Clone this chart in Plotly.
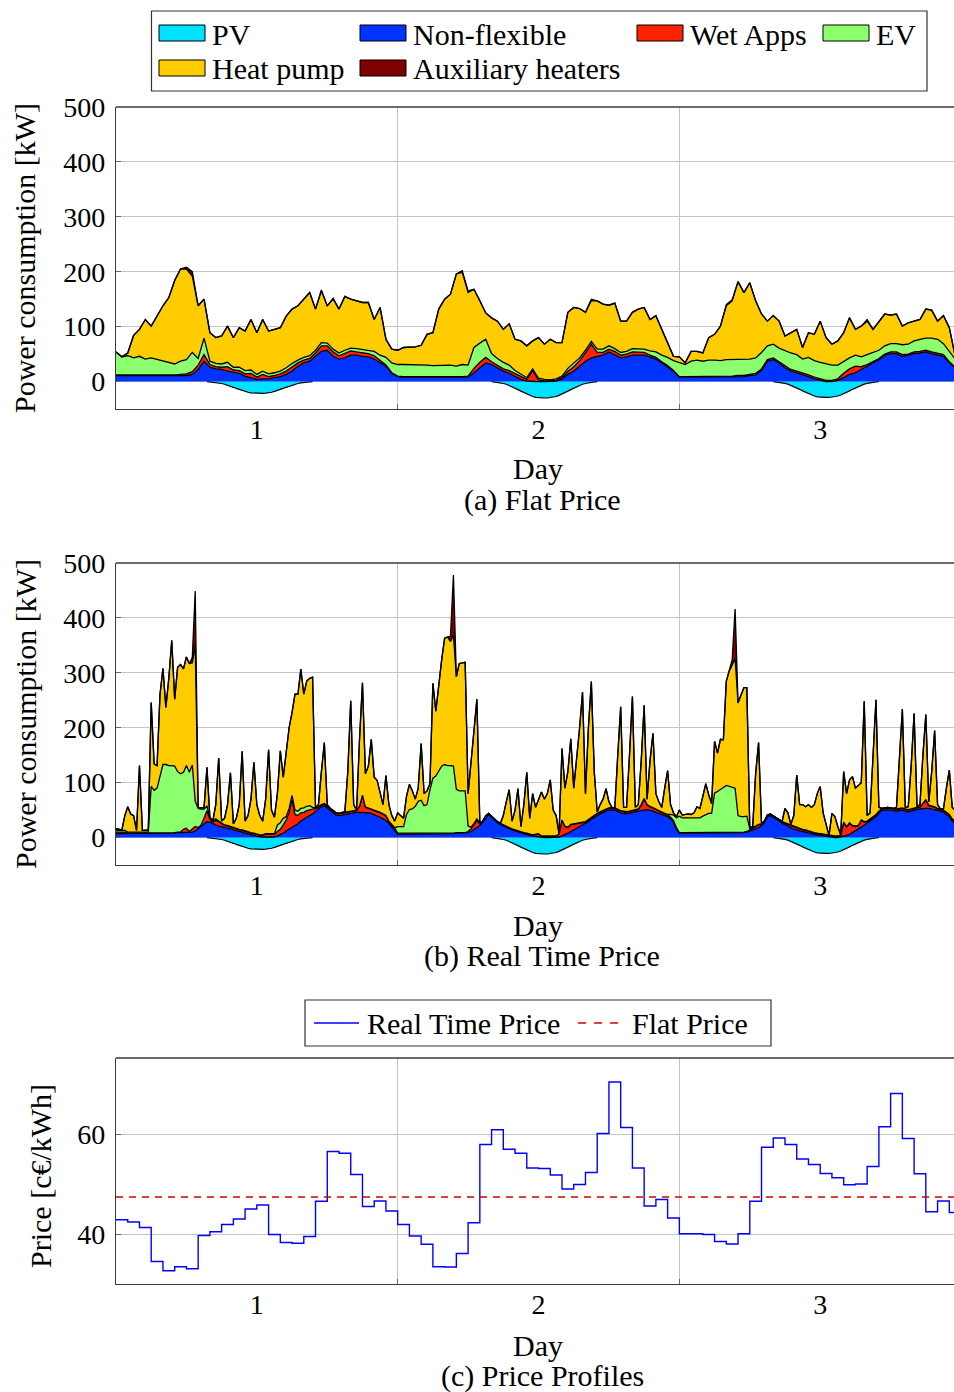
import plotly.graph_objects as go

W, H = 954, 1392


def xp(px):
    return px / W


def yp(py):
    return 1 - py / H


# ---------------- (a) Flat price: half-hourly layers [kW] ----------------
NF_A = ([11, 11, 10, 10, 10, 10, 10, 10, 10, 10, 10, 11, 11, 13, 22, 37, 26, 23, 22, 19,
         17, 15, 10, 7, 4, 5, 5, 7, 9, 13, 19, 28, 34, 37, 46, 55, 57, 46, 41, 43,
         48, 48, 46, 45, 41, 34, 28, 15]
        + [9, 8, 8, 7, 7, 7, 7, 7, 7, 7, 7, 8, 8, 16, 25, 34, 31, 25, 19, 15,
           10, 4, 1, 0, 0, 0, 0, 1, 5, 13, 19, 28, 37, 43, 45, 48, 54, 49, 43, 45,
           48, 48, 48, 45, 41, 34, 27, 19]
        + [8, 8, 8, 8, 8, 8, 8, 8, 8, 8, 9, 9, 11, 12, 20, 37, 40, 34, 25, 19,
           16, 13, 9, 5, 2, 0, 0, 2, 7, 13, 16, 22, 28, 34, 40, 48, 51, 51, 46, 48,
           51, 52, 54, 51, 49, 46, 34, 25])
WA_A = ([1, 1, 1, 1, 1, 1, 1, 1, 1, 1, 2, 2, 3, 5, 8, 12, 5, 4, 4, 8,
         4, 5, 4, 8, 4, 8, 4, 4, 5, 6, 8, 6, 5, 5, 6, 10, 8, 8, 6, 8,
         8, 6, 6, 6, 6, 4, 2, 1]
        + [1, 1, 1, 1, 1, 1, 1, 1, 1, 1, 1, 1, 2, 8, 10, 10, 5, 5, 4, 5,
           5, 5, 3, 20, 3, 1, 1, 1, 2, 6, 8, 10, 15, 25, 8, 5, 5, 6, 5, 5,
           6, 5, 5, 3, 3, 2, 2, 1]
        + [1, 1, 1, 1, 1, 1, 1, 2, 2, 2, 2, 2, 2, 3, 3, 3, 3, 2, 3, 3,
           3, 3, 3, 3, 3, 2, 2, 3, 8, 10, 12, 5, 3, 3, 2, 2, 3, 3, 3, 2,
           3, 3, 3, 3, 3, 3, 2, 1])
EV_A = ([42, 33, 36, 32, 35, 30, 32, 29, 26, 23, 20, 24, 26, 35, 12, 30, 6, 6, 6, 8,
         5, 6, 6, 6, 5, 6, 5, 5, 5, 6, 6, 5, 5, 5, 5, 6, 5, 5, 5, 6,
         5, 6, 6, 6, 8, 10, 14, 18]
        + [21, 22, 22, 22, 22, 22, 21, 21, 22, 22, 20, 22, 20, 38, 35, 33, 15, 12, 12, 10,
           5, 4, 3, 3, 3, 3, 2, 3, 3, 5, 6, 5, 5, 5, 6, 6, 6, 5, 5, 5,
           6, 6, 6, 8, 10, 12, 15, 18]
        + [25, 22, 28, 30, 28, 30, 30, 28, 30, 30, 30, 30, 28, 28, 30, 25, 25, 25, 28, 30,
           30, 25, 32, 30, 30, 30, 28, 25, 22, 20, 20, 18, 18, 16, 15, 15, 15, 15, 18, 18,
           20, 22, 22, 25, 25, 20, 18, 15])
HP_A = ([0, 0, 5, 41, 49, 72, 58, 79, 101, 119, 152, 168, 165, 139, 96, 71, 52, 47, 51, 66,
         54, 72, 72, 92, 76, 94, 78, 79, 79, 94, 99, 99, 106, 115, 75, 94, 68, 91, 80, 98,
         89, 87, 86, 87, 58, 87, 33, 25]
        + [26, 31, 32, 33, 36, 56, 60, 103, 120, 129, 168, 168, 132, 106, 77, 48, 65, 68, 60, 75,
           57, 61, 58, 51, 74, 64, 74, 66, 61, 102, 102, 90, 69, 74, 88, 82, 74, 83, 57, 55,
           66, 73, 76, 57, 66, 47, 27, 8]
        + [11, 3, 18, 16, 15, 41, 47, 63, 98, 107, 141, 121, 139, 104, 70, 45, 52, 49, 27, 37,
           46, 21, 45, 48, 75, 48, 38, 44, 52, 73, 47, 56, 61, 42, 53, 58, 52, 54, 34, 39,
           36, 36, 53, 51, 33, 51, 44, 5])
AUX_A = ([0, 0, 0, 0, 0, 0, 0, 0, 0, 0, 0, 0, 3, 8, 0, 0, 0, 0, 0, 0,
          0, 0, 0, 0, 0, 0, 0, 0, 0, 0, 0, 0, 0, 0, 0, 2, 0, 2, 0, 0,
          0, 0, 0, 0, 0, 0, 0, 0]
         + [0, 0, 0, 0, 0, 0, 0, 0, 0, 0, 0, 3, 3, 0, 0, 0, 0, 0, 0, 0,
            0, 0, 0, 0, 0, 0, 0, 0, 0, 0, 0, 0, 0, 3, 0, 0, 0, 0, 0, 0,
            0, 0, 0, 0, 0, 0, 0, 0]
         + [0, 0, 0, 0, 0, 0, 0, 0, 2, 2, 0, 0, 0, 0, 0, 0, 0, 0, 0, 0,
            0, 0, 0, 0, 0, 0, 0, 0, 0, 0, 0, 0, 3, 0, 0, 0, 0, 0, 0, 0,
            0, 0, 0, 0, 0, 0, 0, 0])

# ---------------- (b) Real time price: quarter-hourly layers [kW] ----------------
NF_B = ([7, 7, 7, 7, 7, 7, 7, 7, 7, 7, 7, 7, 7, 7, 8, 8, 8, 8, 8, 8,
         8, 9, 9, 9, 9, 10, 10, 12, 16, 21, 25, 29, 28, 25, 23, 21, 20, 19, 18, 16,
         14, 13, 11, 10, 8, 7, 5, 4, 2, 1, 1, 1, 1, 1, 1, 3, 5, 8, 12, 15,
         19, 22, 25, 30, 34, 37, 40, 43, 48, 52, 56, 58, 54, 49, 45, 41, 40, 41, 43, 44,
         45, 45, 46, 46, 46, 45, 45, 44, 42, 39, 37, 34, 31, 26, 20, 14]
        + [6, 6, 6, 6, 6, 6, 6, 6, 6, 6, 6, 6, 6, 7, 7, 7, 7, 7, 7, 7,
           8, 8, 8, 8, 9, 11, 15, 19, 22, 28, 35, 42, 37, 32, 27, 24, 21, 18, 16, 14,
           12, 11, 9, 7, 6, 4, 3, 2, 1, 0, 0, 0, 0, 0, 0, 1, 3, 5, 8, 11,
           14, 17, 20, 22, 25, 29, 33, 37, 40, 43, 46, 48, 50, 51, 50, 47, 45, 44, 43, 44,
           46, 47, 48, 49, 50, 51, 50, 48, 46, 45, 43, 41, 38, 34, 28, 15]
        + [8, 8, 8, 8, 8, 8, 8, 8, 8, 8, 8, 8, 8, 8, 8, 8, 8, 8, 9, 9,
           9, 9, 9, 10, 12, 14, 15, 18, 22, 27, 38, 40, 37, 34, 30, 26, 23, 20, 18, 16,
           14, 13, 11, 10, 8, 7, 6, 5, 4, 3, 2, 1, 0, 0, 0, 1, 2, 4, 6, 9,
           12, 15, 19, 23, 26, 30, 34, 38, 44, 49, 50, 51, 50, 49, 48, 49, 50, 48, 47, 48,
           50, 51, 52, 53, 53, 53, 52, 50, 49, 48, 46, 42, 38, 30, 25, 20])
WA_B = ([3, 3, 3, 3, 1, 1, 1, 1, 1, 1, 1, 1, 1, 1, 1, 1, 1, 1, 1, 1,
         1, 1, 1, 6, 8, 1, 6, 8, 2, 2, 10, 20, 5, 3, 8, 8, 5, 3, 3, 3,
         3, 3, 3, 3, 3, 3, 3, 3, 3, 3, 3, 5, 5, 5, 5, 8, 10, 15, 20, 30,
         50, 20, 15, 15, 12, 12, 10, 8, 5, 3, 3, 3, 3, 3, 3, 3, 3, 3, 3, 3,
         3, 3, 3, 10, 30, 10, 8, 8, 8, 8, 8, 8, 8, 3, 3, 3]
        + [2, 2, 2, 1, 1, 1, 1, 1, 1, 1, 1, 1, 1, 1, 1, 1, 1, 1, 1, 1,
           1, 1, 1, 1, 2, 5, 8, 12, 3, 1, 1, 1, 1, 1, 1, 1, 1, 1, 1, 1,
           1, 1, 1, 1, 1, 1, 1, 3, 5, 2, 2, 2, 2, 2, 2, 5, 28, 15, 10, 12,
           10, 8, 6, 5, 3, 3, 3, 3, 3, 3, 3, 3, 3, 3, 3, 3, 3, 3, 3, 3,
           3, 3, 3, 10, 20, 8, 6, 6, 5, 3, 3, 3, 3, 3, 3, 3]
        + [1, 1, 1, 1, 1, 1, 1, 1, 1, 1, 1, 1, 1, 1, 1, 1, 1, 1, 1, 1,
           1, 1, 1, 1, 2, 3, 5, 5, 2, 2, 2, 2, 2, 2, 2, 2, 3, 3, 3, 3,
           3, 3, 3, 3, 3, 3, 2, 2, 2, 2, 2, 2, 2, 2, 2, 3, 25, 15, 20, 12,
           8, 6, 12, 5, 3, 3, 3, 3, 3, 3, 3, 3, 3, 3, 3, 3, 3, 3, 3, 3,
           3, 3, 3, 8, 15, 5, 5, 5, 3, 3, 3, 3, 3, 3, 3, 3])
EV_B = ([3, 3, 3, 3, 2, 2, 2, 2, 2, 2, 2, 2, 85, 78, 81, 103, 124, 124, 122, 122,
         121, 110, 106, 104, 114, 108, 116, 46, 35, 29, 17, 8, 3, 3, 3, 1, 1, 1, 1, 1,
         1, 1, 1, 1, 1, 1, 1, 1, 1, 1, 1, 1, 1, 1, 1, 12, 12, 12, 6, 8,
         8, 8, 8, 8, 8, 8, 8, 4, 1, 1, 1, 1, 1, 1, 1, 1, 1, 1, 1, 1,
         1, 1, 1, 1, 1, 1, 1, 1, 1, 1, 1, 1, 1, 1, 1, 1]
        + [12, 12, 12, 35, 44, 45, 50, 59, 61, 51, 53, 80, 101, 104, 113, 122, 125, 123, 123, 122,
           79, 76, 76, 76, 10, 3, 3, 3, 1, 1, 1, 1, 1, 1, 1, 1, 1, 1, 1, 1,
           1, 1, 1, 1, 1, 1, 1, 1, 1, 1, 1, 1, 1, 1, 1, 1, 1, 1, 1, 1,
           1, 1, 1, 1, 1, 1, 1, 1, 1, 1, 1, 1, 1, 1, 1, 1, 1, 1, 1, 1,
           1, 1, 1, 1, 1, 1, 1, 1, 1, 1, 1, 1, 1, 5, 10, 18]
        + [30, 27, 27, 27, 27, 27, 27, 27, 30, 33, 35, 35, 72, 75, 78, 82, 86, 84, 82, 80,
           30, 28, 28, 28, 2, 1, 1, 1, 1, 1, 1, 1, 1, 1, 1, 1, 1, 1, 1, 1,
           1, 1, 1, 1, 1, 1, 1, 1, 1, 1, 1, 1, 1, 1, 1, 1, 1, 1, 1, 1,
           1, 1, 1, 1, 1, 1, 1, 1, 1, 1, 1, 1, 1, 1, 1, 1, 1, 1, 1, 1,
           1, 1, 1, 1, 1, 1, 1, 1, 1, 1, 1, 1, 1, 1, 2, 3])
HP_B = ([3, 2, 1, 27, 46, 33, 30, 3, 121, 3, 3, 4, 153, 48, 41, 149, 175, 104, 159, 228,
         122, 190, 199, 188, 198, 198, 186, 283, 2, 2, 2, 71, 0, 0, 26, 115, 4, 12, 38, 98,
         7, 18, 45, 143, 18, 29, 61, 129, 54, 35, 25, 63, 153, 43, 30, 57, 131, 75, 122, 147,
         151, 211, 213, 254, 207, 228, 232, 237, 1, 4, 60, 111, 2, 0, 0, 0, 0, 0, 0, 72,
         200, 11, 0, 123, 205, 60, 76, 126, 59, 56, 34, 17, 73, 30, 16, 12]
        + [25, 20, 15, 33, 46, 33, 13, 24, 103, 22, 25, 11, 173, 118, 159, 194, 230, 234, 226, 238,
           205, 232, 233, 234, 59, 116, 174, 218, 0, 0, 3, 0, 0, 0, 0, 0, 17, 45, 69, 14,
           36, 76, 9, 51, 111, 29, 75, 49, 63, 80, 67, 77, 102, 47, 37, 0, 130, 69, 101, 156,
           65, 115, 173, 237, 51, 167, 247, 79, 3, 13, 20, 37, 11, 0, 0, 99, 189, 7, 8, 102,
           207, 4, 8, 80, 170, 10, 83, 135, 28, 16, 8, 45, 80, 18, 4, 2]
        + [11, 5, 6, 7, 6, 9, 20, 17, 36, 56, 34, 18, 94, 70, 92, 87, 190, 210, 222, 236,
           205, 222, 235, 234, 2, 2, 96, 149, 0, 0, 0, 0, 0, 0, 0, 0, 26, 21, 2, 20,
           96, 43, 45, 42, 48, 44, 51, 72, 86, 39, 20, 0, 41, 35, 17, 0, 92, 60, 78, 89,
           69, 73, 68, 219, 10, 11, 112, 209, 7, 0, 0, 0, 0, 0, 3, 97, 180, 3, 5, 78,
           172, 1, 4, 88, 155, 6, 62, 139, 7, 0, 2, 44, 81, 21, 20, 19])
AUX_B = ([0] * 26 + [10, 100] + [0] * 68
         + [0] * 18 + [10, 110] + [0] * 76
         + [0] * 18 + [10, 90] + [0] * 76)

# PV generation (shown negative), quarter-hourly, same in both scenarios [kW]
PV = ([0] * 32
      + [-0.5, -1, -1.5, -2.5, -3.5, -5, -6.5, -8.5, -10.5, -12.5, -14.5, -16.5, -18, -19.5,
         -20.5, -21, -21.5, -21.5, -21.5, -21, -20.5, -19.5, -18, -16.5, -14.5, -12.5, -10.5,
         -8.5, -6.5, -5, -3.5, -2.5, -1.5, -1, -0.5]
      + [0] * 29
      + [0] * 33
      + [-0.7, -1.4, -2.1, -3.5, -4.9, -7, -9.1, -11.9, -14.7, -17.5, -20.3, -23.1, -25.2,
         -27.3, -28.7, -29.4, -30, -30, -30, -29.4, -28.7, -27.3, -25.2, -23.1, -20.3, -17.5,
         -14.7, -11.9, -9.1, -7, -4.9, -3.5, -2.1, -1.4, -0.7]
      + [0] * 28
      + [0] * 33
      + [-0.7, -1.4, -2, -3.4, -4.8, -6.8, -8.8, -11.5, -14.2, -17, -19.7, -22.4, -24.4,
         -26.4, -27.8, -28.5, -29, -29, -29, -28.5, -27.8, -26.4, -24.4, -22.4, -19.7, -17,
         -14.2, -11.5, -8.8, -6.8, -4.8, -3.4, -2, -1.4, -0.7]
      + [0] * 28)

# ---------------- (c) Price profiles, hourly [c€/kWh] ----------------
PRICE_RT = [42.85, 42.4, 41.3, 34.5, 32.65, 33.45, 33.05, 39.7, 40.45, 41.9, 43.0, 45.0,
            45.8, 39.9, 38.3, 38.15, 39.5, 46.55, 56.5, 56.15, 51.9, 45.5, 46.6, 44.6,
            41.9, 39.6, 37.95, 33.45, 33.4, 36.1, 42.25, 57.9, 60.85, 56.95, 56.15, 53.2,
            53.1, 51.8, 49.0, 49.9, 52.3, 60.1, 70.4, 61.3, 53.2, 45.6, 46.9, 43.2,
            40.05, 40.05, 39.9, 38.5, 38.0, 40.05, 46.55, 57.35, 59.2, 57.9, 55.0, 53.9,
            52.1, 51.25, 49.85, 50.0, 53.5, 61.45, 68.1, 59.1, 52.05, 44.45, 46.6, 44.3]
PRICE_FLAT = 47.4

DAY_TICKS = [1, 2, 3]
DAY_LABELS = ["1", "2", "3"]
KW_TICKS = [0, 100, 200, 300, 400, 500]
PRICE_TICKS = [40, 60]

# time grids (days; day d is centred on d)
x_a = [0.5 + k / 48 for k in range(len(NF_A))]
x_b = [0.5 + k / 96 for k in range(len(NF_B))]
x_c = [0.5 + k / 24 for k in range(len(PRICE_RT) + 1)]

COL = {
    "PV": "#00e1ff",
    "Non-flexible": "#0033ff",
    "Wet Apps": "#ff2200",
    "EV": "#8cff6e",
    "Heat pump": "#ffcc00",
    "Auxiliary heaters": "#800000",
}
FLAT_COL = "#d40000"

FONT = "Liberation Serif"
FS = 30      # labels
FT = 28      # tick labels

fig = go.Figure()


def pv_segments(vals):
    out = []
    n = len(vals)
    for i, v in enumerate(vals):
        near = v != 0 or (i > 0 and vals[i - 1] != 0) or (i < n - 1 and vals[i + 1] != 0)
        out.append(v if near else None)
    return out


def add_panel(xs, layers, xa, ya, grp):
    fig.add_trace(go.Scatter(x=x_b, y=pv_segments(PV), mode="lines", fill="tozeroy",
                             fillcolor=COL["PV"], line=dict(color="black", width=1.2),
                             xaxis=xa, yaxis=ya, showlegend=False, hoverinfo="skip"))
    for name, vals in layers:
        fig.add_trace(go.Scatter(x=xs, y=vals, mode="lines", stackgroup=grp,
                                 fillcolor=COL[name], line=dict(color="black", width=1.3),
                                 xaxis=xa, yaxis=ya, showlegend=False, name=name))


add_panel(x_a, [("Non-flexible", NF_A), ("Wet Apps", WA_A), ("EV", EV_A),
                ("Heat pump", HP_A), ("Auxiliary heaters", AUX_A)], "x", "y", "a")
add_panel(x_b, [("Non-flexible", NF_B), ("Wet Apps", WA_B), ("EV", EV_B),
                ("Heat pump", HP_B), ("Auxiliary heaters", AUX_B)], "x2", "y2", "b")

fig.add_trace(go.Scatter(x=x_c, y=PRICE_RT + [PRICE_RT[-1]], mode="lines", line_shape="hv",
                         line=dict(color="#0000ff", width=1.4), xaxis="x3", yaxis="y3",
                         showlegend=False, name="Real Time Price"))
fig.add_trace(go.Scatter(x=[0.5, 3.5], y=[PRICE_FLAT, PRICE_FLAT], mode="lines",
                         line=dict(color=FLAT_COL, width=1.3, dash="7px,6px"),
                         xaxis="x3", yaxis="y3", showlegend=False, name="Flat Price"))

GRID = "#c4c4c4"
AX = "#3a3a3a"
XDOM = [xp(116), 1.0]


def xaxis_cfg(anchor):
    return dict(domain=XDOM, anchor=anchor, range=[0.5, 3.475], tickmode="array",
                tickvals=DAY_TICKS, ticktext=DAY_LABELS, ticks="", showgrid=False,
                zeroline=False, showline=True, linecolor=AX, linewidth=1.3,
                automargin=False, ticklabelstandoff=-5,
                tickfont=dict(family=FONT, size=FT, color="black"),
                minor=dict(tickmode="array", tickvals=[1.5, 2.5], showgrid=True,
                           gridcolor=GRID, gridwidth=1, ticks="inside", ticklen=5,
                           tickcolor="#666"))


def yaxis_cfg(anchor, dom, rng, tv):
    return dict(domain=dom, anchor=anchor, range=rng, tickmode="array", tickvals=tv,
                showgrid=True, gridcolor=GRID, gridwidth=1, zeroline=False,
                showline=True, linecolor=AX, linewidth=1.3, ticks="inside", ticklen=5,
                tickcolor="#666", ticklabelstandoff=4, automargin=False,
                tickfont=dict(family=FONT, size=FT, color="black"))


fig.update_layout(
    width=W, height=H, margin=dict(l=0, r=0, t=0, b=0, pad=0, autoexpand=False),
    paper_bgcolor="white", plot_bgcolor="white", showlegend=False,
    font=dict(family=FONT, size=FS, color="black"),
    xaxis=xaxis_cfg("y"),
    yaxis=yaxis_cfg("x", [yp(409), yp(107)], [-50, 500], KW_TICKS),
    xaxis2=xaxis_cfg("y2"),
    yaxis2=yaxis_cfg("x2", [yp(865), yp(563)], [-50, 500], KW_TICKS),
    xaxis3=xaxis_cfg("y3"),
    yaxis3=yaxis_cfg("x3", [yp(1284), yp(1058)], [30, 75.2], PRICE_TICKS),
)

shapes = []
# top frame lines of each panel
for xr, yr in (("x", "y"), ("x2", "y2"), ("x3", "y3")):
    shapes.append(dict(type="line", xref=f"{xr} domain", yref=f"{yr} domain",
                       x0=0, x1=1, y0=1, y1=1, line=dict(color=AX, width=1.3)))

ann = []


def text(x, y, s, anchor="center", angle=0, size=FS):
    ann.append(dict(x=xp(x), y=yp(y), xref="paper", yref="paper", text=s,
                    showarrow=False, xanchor=anchor, yanchor="middle", textangle=angle,
                    font=dict(family=FONT, size=size, color="black")))


# legend of panel (a)
shapes.append(dict(type="rect", xref="paper", yref="paper", x0=xp(151.5), x1=xp(927),
                   y0=yp(91), y1=yp(11), line=dict(color="#333", width=1.2),
                   fillcolor="white"))
legend_items = [("PV", 159, 33), ("Non-flexible", 360, 33), ("Wet Apps", 637, 33),
                ("EV", 823, 33), ("Heat pump", 159, 68), ("Auxiliary heaters", 360, 68)]
for name, sx, sy in legend_items:
    shapes.append(dict(type="rect", xref="paper", yref="paper", x0=xp(sx), x1=xp(sx + 46),
                       y0=yp(sy + 8), y1=yp(sy - 8), fillcolor=COL[name],
                       line=dict(color="black", width=1)))
    text(sx + 51, sy + 1, name, anchor="left")

# legend of panel (c)
shapes.append(dict(type="rect", xref="paper", yref="paper", x0=xp(305), x1=xp(771),
                   y0=yp(1046), y1=yp(1000), line=dict(color="#333", width=1.2),
                   fillcolor="white"))
shapes.append(dict(type="line", xref="paper", yref="paper", x0=xp(314), x1=xp(359),
                   y0=yp(1023), y1=yp(1023), line=dict(color="#0000ff", width=1.3)))
shapes.append(dict(type="line", xref="paper", yref="paper", x0=xp(578), x1=xp(622),
                   y0=yp(1023), y1=yp(1023),
                   line=dict(color=FLAT_COL, width=1.3, dash="8px,8px")))
text(365, 1023, "Real Time Price", anchor="left")
text(630, 1023, "Flat Price", anchor="left")

# axis titles and captions
text(25, 258, "Power consumption [kW]", angle=-90)
text(25, 714, "Power consumption [kW]", angle=-90)
text(40, 1176, "Price [c€/kWh]", angle=-90)
text(538, 469, "Day")
text(538, 925, "Day")
text(538, 1345, "Day")
text(542, 500, "(a) Flat Price")
text(542, 956, "(b) Real Time Price")
text(542, 1376, "(c) Price Profiles")

fig.update_layout(shapes=shapes, annotations=ann)
fig.write_html("out.html")
